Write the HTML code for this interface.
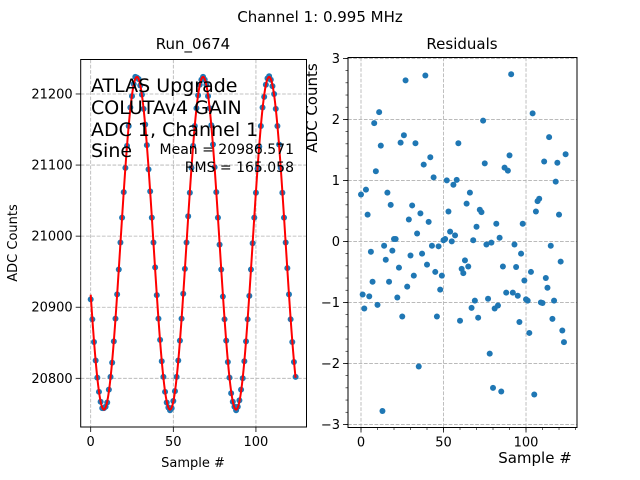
<!DOCTYPE html>
<html><head><meta charset="utf-8">
<style>
html,body{margin:0;padding:0;background:#fff;}
svg{display:block;font-family:"DejaVu Sans","Liberation Sans",sans-serif;}
</style></head>
<body>
<svg id="chart" width="640" height="480" viewBox="0 0 640 480" xmlns="http://www.w3.org/2000/svg">
<text x="320" y="22" font-size="15" text-anchor="middle">Channel 1: 0.995 MHz</text>
<text x="193" y="49" font-size="15" text-anchor="middle">Run_0674</text>
<text x="462" y="49" font-size="15" text-anchor="middle">Residuals</text>
<g id="left"></g>
<g id="right"></g>
<text x="193" y="467" font-size="13" text-anchor="middle">Sample #</text>
<text x="17" y="243" font-size="13" text-anchor="middle" transform="rotate(-90 17 243)">ADC Counts</text>
<text x="535" y="463" font-size="15" text-anchor="middle">Sample #</text>
<text x="317" y="108" font-size="15" text-anchor="middle" transform="rotate(-90 317 108)">ADC Counts</text>
<g font-size="19">
<text x="91" y="92">ATLAS Upgrade</text>
<text x="91" y="114">COLUTAv4 GAIN</text>
<text x="91" y="136">ADC 1, Channel 1</text>
<text x="91" y="157">Sine</text>
</g>
<text x="294" y="154" font-size="14" text-anchor="end">Mean = 20986.571</text>
<text x="294" y="172" font-size="14" text-anchor="end">RMS = 165.058</text>
</svg>
<script>
const adcValues = [20911,20883,20851,20825,20801,20781,20767,20758,20758,20760,20766,20784,20802,20822,20852,20884,20918,20953,20991,21026,
21062,21096,21127,21155,21181,21197,21214,21224,21223,21221,21212,21199,21179,21157,21128,21094,21063,21026,20991,20956,
20917,20884,20854,20824,20802,20781,20766,20759,20755,20758,20768,20782,20802,20825,20853,20884,20919,20954,20991,21028,
21061,21096,21127,21155,21180,21198,21213,21220,21224,21220,21213,21197,21180,21156,21129,21097,21062,21026,20988,20953,
20915,20883,20853,20823,20801,20779,20767,20760,20755,20760,20769,20784,20800,20824,20852,20883,20916,20953,20990,21026,
21061,21095,21126,21155,21181,21196,21213,21222,21225,21220,21211,21200,21179,21155,21129,21096,21061,21026,20991,20955,
20918,20883,20851,20823,20802];
const residuals = [0.77,-0.87,-1.10,0.85,0.44,-0.9,-0.17,-0.66,1.94,1.15,
-1.04,2.12,1.57,-2.78,-0.07,-0.30,0.8,-0.66,0.6,-0.15,
0.04,0.04,-0.92,-0.43,1.62,-1.23,1.74,2.64,-0.74,0.36,
-0.23,0.59,-0.56,1.61,0.13,-2.05,0.46,-0.2,1.26,2.72,
-0.38,0.32,1.38,-0.07,1.05,-0.5,-1.23,-0.08,-0.79,-0.56,
0.02,0.04,1.0,0.49,0.16,0.0,0.93,0.1,1.01,1.61,
-1.30,-0.45,-0.52,-0.31,0.62,-0.41,0.8,-1.09,0.02,-0.97,
0.24,-1.25,0.52,0.48,1.98,1.28,-0.05,-0.94,-1.84,-0.02,
-2.40,-1.1,0.29,-1.05,0.06,-2.46,-0.41,1.21,-0.84,1.16,
1.41,2.74,-0.84,-0.05,-0.42,-0.89,-1.32,-0.2,0.29,-0.64,
-0.95,-0.97,-1.5,-0.5,2.1,-2.51,0.49,0.66,0.7,-1.0,
-1.01,1.31,-0.6,-0.76,1.71,-0.07,-1.27,-0.97,0.98,1.29,
0.44,-0.33,-1.46,-1.65,1.43];
const fitParams = [20990, 234, 40, 18]; // offset, amplitude, period, phase
const leftXTicks = [0,50,100];
const leftYTicks = [20800,20900,21000,21100,21200];
const rightXTicks = [0,50,100];
const rightYTicks = [-3,-2,-1,0,1,2,3];

const NS="http://www.w3.org/2000/svg";
function mk(parent,tag,attrs){const e=document.createElementNS(NS,tag);for(const k in attrs)e.setAttribute(k,attrs[k]);parent.appendChild(e);return e;}

const L={x0:80.7,x1:306.5,y0:59.5,y1:427,xmin:-6.05,xmax:130.6,ymin:20731.5,ymax:21248.5};
const R={x0:348,x1:577,y0:57.5,y1:427.5,xmin:-7.88,xmax:130.9,ymin:-3.05,ymax:3.015};
function sx(A,v){return A.x0+(v-A.xmin)/(A.xmax-A.xmin)*(A.x1-A.x0);}
function sy(A,v){return A.y1-(v-A.ymin)/(A.ymax-A.ymin)*(A.y1-A.y0);}

function axes(g,A,xt,yt,minor){
  for(const t of xt){
    const x=sx(A,t);
    const gl=mk(g,'line',{x1:x,x2:x,y1:A.y0,y2:A.y1,stroke:'#b0b0b0','stroke-dasharray':'3.7,1.6','stroke-width':0.8});
    
    
    const tk=mk(g,'line',{x1:x,x2:x,y1:A.y1,y2:A.y1+5,stroke:'#000','stroke-width':0.8});
    
    
    const tl=mk(g,'text',{x:x,y:A.y1+19,'font-size':13,'text-anchor':'middle'});
    tl.textContent=t;
    
    
  }
  for(const t of yt){
    const y=sy(A,t);
    const gl=mk(g,'line',{x1:A.x0,x2:A.x1,y1:y,y2:y,stroke:'#b0b0b0','stroke-dasharray':'3.7,1.6','stroke-width':0.8});
    
    
    const tk=mk(g,'line',{x1:A.x0-5,x2:A.x0,y1:y,y2:y,stroke:'#000','stroke-width':0.8});
    
    
    const tl=mk(g,'text',{x:A.x0-8,y:y+4.5,'font-size':13,'text-anchor':'end'});
    tl.textContent=t<0?'\u2212'+(-t):t;
    
    
  }
  if(minor){
    for(let v=Math.ceil(A.xmin/10)*10; v<=A.xmax; v+=10){
      const x=sx(A,v);
      const m=mk(g,'line',{x1:x,x2:x,y1:A.y1,y2:A.y1+2.5,stroke:'#000','stroke-width':0.6});
      
      
    }
    for(let i=Math.ceil(A.ymin*5); i<=A.ymax*5; i++){
      const y=sy(A,i/5);
      const m=mk(g,'line',{x1:A.x0-2.5,x2:A.x0,y1:y,y2:y,stroke:'#000','stroke-width':0.6});
      
      
    }
  }
}

const gL=document.getElementById('left');
axes(gL,L,leftXTicks,leftYTicks,false);
adcValues.forEach((v,i)=>{
  const c=mk(gL,'circle',{cx:sx(L,i),cy:sy(L,v),r:3,fill:'#1f77b4'});
  
  
});
let d='';
for(let k=0;k<=(adcValues.length-1)*4;k++){
  const n=k/4;
  const v=fitParams[0]+fitParams[1]*Math.sin(2*Math.PI*(n-fitParams[3])/fitParams[2]);
  d+=(k?'L':'M')+sx(L,n).toFixed(2)+','+sy(L,v).toFixed(2);
}
const fit=mk(gL,'path',{d:d,fill:'none',stroke:'#ff0000','stroke-width':2});


const fL=mk(gL,'rect',{x:L.x0,y:L.y0,width:L.x1-L.x0,height:L.y1-L.y0,fill:'none',stroke:'#000','stroke-width':1});



const gR=document.getElementById('right');
axes(gR,R,rightXTicks,rightYTicks,true);
residuals.forEach((v,i)=>{
  const c=mk(gR,'circle',{cx:sx(R,i),cy:sy(R,v),r:3,fill:'#1f77b4'});
  
  
});
const fR=mk(gR,'rect',{x:R.x0,y:R.y0,width:R.x1-R.x0,height:R.y1-R.y0,fill:'none',stroke:'#000','stroke-width':1});


</script>
</body></html>
